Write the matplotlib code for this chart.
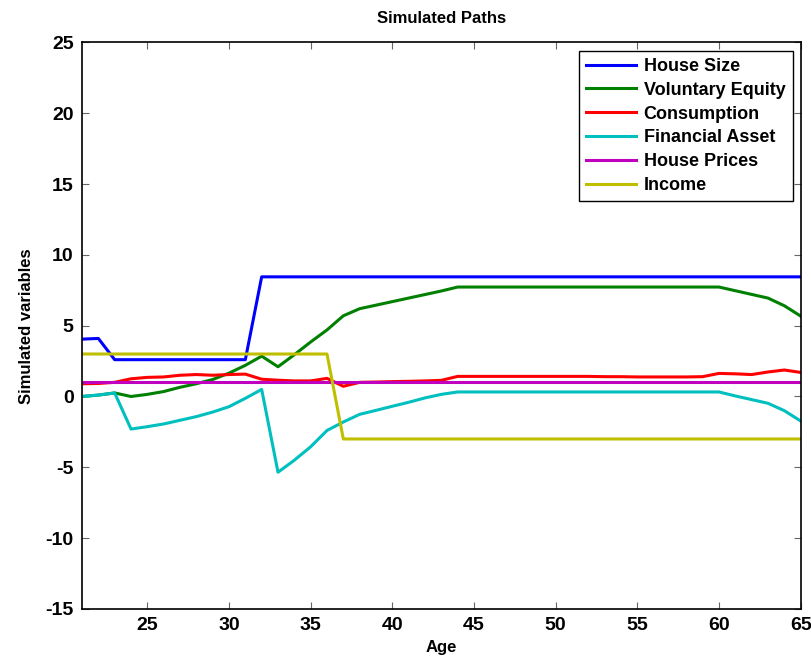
import matplotlib
matplotlib.use("Agg")
import matplotlib.pyplot as plt
import numpy as np

plt.rcParams['font.family'] = ['Liberation Sans', 'DejaVu Sans']
plt.rcParams['font.weight'] = 'bold'
plt.rcParams['axes.unicode_minus'] = False

age = np.arange(21, 66)

house_size = [4.05, 4.1] + [2.6] * 9 + [8.45] * 34
voluntary_equity = [0.0, 0.1, 0.25, 0.0, 0.15, 0.35, 0.65, 0.9, 1.2, 1.65,
                    2.2, 2.85, 2.1, 2.95, 3.85, 4.7, 5.7, 6.2, 6.45, 6.7,
                    6.95, 7.2, 7.45] + [7.73] * 17 + [7.47, 7.21, 6.95, 6.41, 5.68]
consumption = [0.9, 0.92, 1.0, 1.25, 1.35, 1.38, 1.5, 1.55, 1.5, 1.55,
               1.58, 1.22, 1.15, 1.1, 1.1, 1.28, 0.72, 1.0, 1.02, 1.05,
               1.07, 1.1, 1.14] + [1.42] * 6 + \
              [1.42, 1.42, 1.42, 1.4, 1.4, 1.38, 1.38, 1.38, 1.38, 1.4,
               1.63, 1.6, 1.55, 1.73, 1.87, 1.7]
financial_asset = [0.0, 0.1, 0.25, -2.3, -2.13, -1.94, -1.68, -1.42, -1.1, -0.72,
                   -0.13, 0.5, -5.35, -4.5, -3.55, -2.4, -1.8, -1.26, -0.98, -0.69,
                   -0.41, -0.1, 0.15] + [0.32] * 17 + [0.04, -0.22, -0.48, -1.0, -1.73]
house_prices = [1.0] * 45
income = [3.0] * 16 + [-3.0] * 29

series = [
    ("House Size", house_size, (0, 0, 1)),
    ("Voluntary Equity", voluntary_equity, (0, 0.5, 0)),
    ("Consumption", consumption, (1, 0, 0)),
    ("Financial Asset", financial_asset, (0, 0.75, 0.75)),
    ("House Prices", house_prices, (0.75, 0, 0.75)),
    ("Income", income, (0.75, 0.75, 0)),
]

fig = plt.figure(figsize=(8.12, 6.64), dpi=100)
ax = fig.add_axes([0.101, 0.083, 0.885, 0.853])

for name, vals, col in series:
    ax.plot(age, vals, color=col, linewidth=2.2, label=name)

ax.set_xlim(21, 65)
ax.set_ylim(-15, 25)
ax.set_xticks(range(25, 66, 5))
ax.set_yticks(range(-15, 26, 5))
ax.tick_params(direction='in', length=5, width=0.8, color='0.4',
               labelsize=14, top=True, right=True, pad=6)
for lab in ax.get_xticklabels() + ax.get_yticklabels():
    lab.set_fontweight('bold')
for sp in ax.spines.values():
    sp.set_linewidth(1.2)

ax.set_title("Simulated Paths", fontsize=12, fontweight='bold', pad=14)
ax.set_xlabel("Age", fontsize=12, fontweight='bold', labelpad=4)
ax.set_ylabel("Simulated variables", fontsize=12, fontweight='bold', labelpad=8)

leg = ax.legend(loc='upper right', fontsize=13, handlelength=2.8,
                fancybox=False, framealpha=1, edgecolor='black',
                borderaxespad=0.45, labelspacing=0.38, handletextpad=0.4,
                borderpad=0.4)
leg.get_frame().set_linewidth(1.0)
for t in leg.get_texts():
    t.set_fontweight('bold')

fig.savefig("out.png", dpi=100)
